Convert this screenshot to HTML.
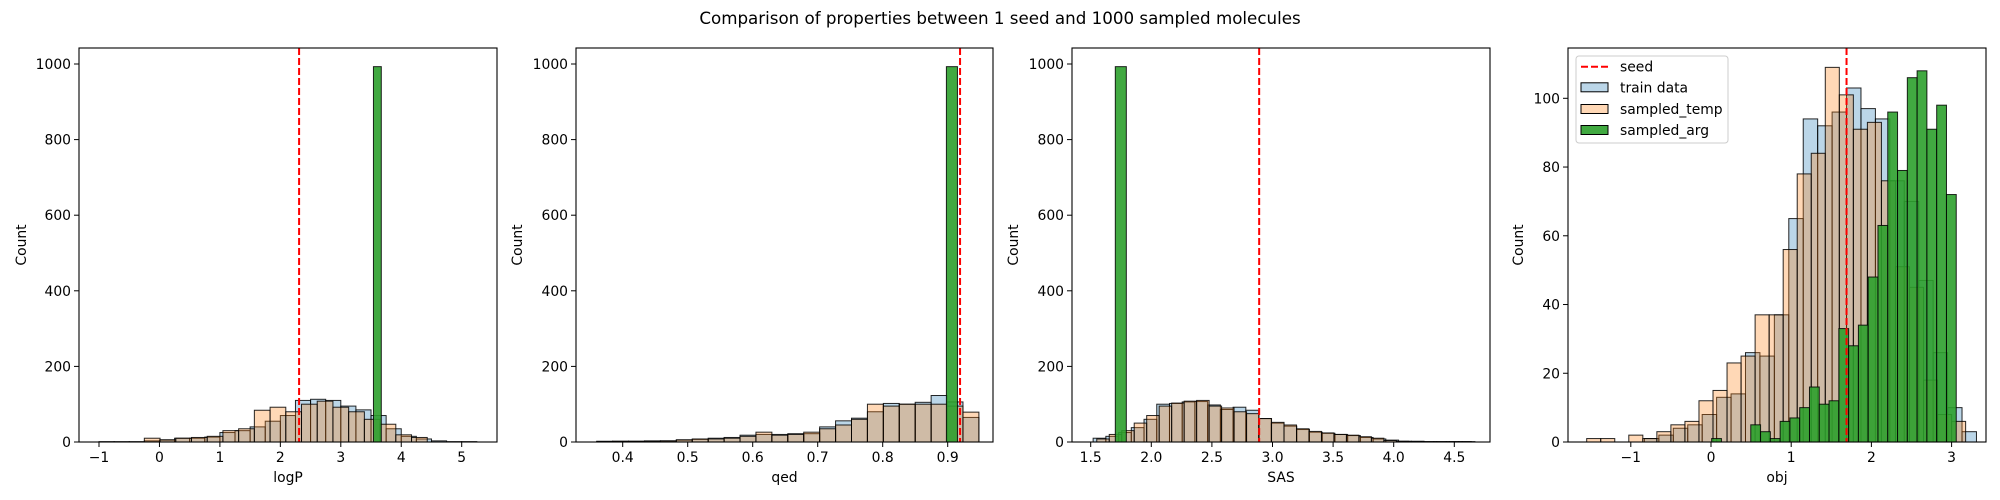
<!DOCTYPE html>
<html><head><meta charset="utf-8"><style>
body{margin:0;background:#fff;}
svg{display:block;font-family:"DejaVu Sans","Liberation Sans",sans-serif;}
</style></head><body>
<svg id="fig" width="2000" height="500" viewBox="0 0 2000 500">
<text x="1000" y="24" font-size="16.7" text-anchor="middle">Comparison of properties between 1 seed and 1000 sampled molecules</text>
</svg>
<script>
// ---- logP panel data ----
const logpTrainStart=-1.0, logpTrainWidth=0.25;
const logpTrainCounts=[1,1,1,3,5,10,10,13,25,30,40,55,70,110,113,110,95,85,70,35,15,8,3,1,1];
const logpTempStart=-0.25, logpTempWidth=0.26;
const logpTempCounts=[10,6,10,12,15,30,35,84,92,80,100,108,92,80,60,47,19,12];
const logpArgStart=3.54, logpArgWidth=0.13;
const logpArgCounts=[993];
const logpSeed=2.31;
// ---- qed panel data ----
const qedTrainStart=0.36, qedTrainWidth=0.0245;
const qedTrainCounts=[2,2,2,3,3,5,7,10,12,18,20,20,22,22,40,56,63,80,102,100,105,123,106,65];
const qedTempStart=0.36, qedTempWidth=0.0245;
const qedTempCounts=[1,2,2,2,3,6,8,8,10,15,26,18,20,26,35,45,60,100,95,100,100,100,95,79];
const qedArgStart=0.898, qedArgWidth=0.017;
const qedArgCounts=[993];
const qedSeed=0.919;
// ---- SAS panel data ----
const sasTrainStart=1.52, sasTrainWidth=0.105;
const sasTrainCounts=[10,15,25,38,60,100,102,106,107,98,86,92,84,62,50,42,33,26,23,20,17,12,8,5,2,2,1,1,1,1];
const sasTempStart=1.55, sasTempWidth=0.103;
const sasTempCounts=[8,20,30,50,70,95,103,108,110,95,90,80,75,62,52,45,35,28,24,20,18,14,10,4,2,1,1,1,1,1];
const sasArgStart=1.703, sasArgWidth=0.091;
const sasArgCounts=[993];
const sasSeed=2.89;
// ---- obj panel data ----
const objTrainStart=-0.83, objTrainWidth=0.18;
const objTrainCounts=[1,2,4,5,8,13,14,26,25,37,65,94,92,96,103,97,94,76,70,47,26,10,3];
const objTempStart=-1.55, objTempWidth=0.175;
const objTempCounts=[1,1,0,2,1,3,5,6,12,15,23,25,37,37,56,78,84,109,101,91,93,76,51,45,18,8,6];
const objArgStart=0.008, objArgWidth=0.122;
const objArgCounts=[1,0,0,0,5,3,1,6,7,10,16,11,12,33,28,34,48,63,96,79,106,108,91,98,72];
const objSeed=1.69;

const NS="http://www.w3.org/2000/svg";
const svg=document.getElementById('fig');
function mk(tag,attrs,parent){const e=document.createElementNS(NS,tag);for(const k in attrs)e.setAttribute(k,attrs[k]);(parent||svg).appendChild(e);return e;}

const panels=[
 {key:'logp',label:'logP',left:79,right:497,x0:-1,px0:99,ppu:60.45,ppc:0.378,yticks:[0,200,400,600,800,1000],ylab:21,
  xticks:[-1,0,1,2,3,4,5],fmt:v=>v<0?'\u2212'+Math.abs(v):String(v),
  series:[[logpTrainStart,logpTrainWidth,logpTrainCounts],[logpTempStart,logpTempWidth,logpTempCounts],[logpArgStart,logpArgWidth,logpArgCounts]],seed:logpSeed},
 {key:'qed',label:'qed',left:576,right:993,x0:0.4,px0:622.7,ppu:650,ppc:0.378,yticks:[0,200,400,600,800,1000],ylab:517,
  xticks:[0.4,0.5,0.6,0.7,0.8,0.9],fmt:v=>v.toFixed(1),
  series:[[qedTrainStart,qedTrainWidth,qedTrainCounts],[qedTempStart,qedTempWidth,qedTempCounts],[qedArgStart,qedArgWidth,qedArgCounts]],seed:qedSeed},
 {key:'sas',label:'SAS',left:1072,right:1490,x0:1.5,px0:1090.7,ppu:121.2,ppc:0.378,yticks:[0,200,400,600,800,1000],ylab:1013,
  xticks:[1.5,2.0,2.5,3.0,3.5,4.0,4.5],fmt:v=>v.toFixed(1),
  series:[[sasTrainStart,sasTrainWidth,sasTrainCounts],[sasTempStart,sasTempWidth,sasTempCounts],[sasArgStart,sasArgWidth,sasArgCounts]],seed:sasSeed},
 {key:'obj',label:'obj',left:1568,right:1986,x0:0,px0:1711,ppu:80.2,ppc:3.437,yticks:[0,20,40,60,80,100],ylab:1518,
  xticks:[-1,0,1,2,3],fmt:v=>v<0?'\u2212'+Math.abs(v):String(v),
  series:[[objTrainStart,objTrainWidth,objTrainCounts],[objTempStart,objTempWidth,objTempCounts],[objArgStart,objArgWidth,objArgCounts]],seed:objSeed,legend:true}
];
const TOP=48,BOT=442;
const fills=['rgba(31,119,180,0.3)','rgba(255,127,14,0.3)','rgba(44,160,44,0.9)'];
const names=['train','temp','arg'];

panels.forEach(p=>{
 const xs=v=>p.px0+(v-p.x0)*p.ppu;
 const ys=c=>BOT-c*p.ppc;
 const g=mk('g',{});
 
 
 const clipId='clip-'+p.key;
 const cp=mk('clipPath',{id:clipId},g);
 mk('rect',{x:p.left,y:TOP,width:p.right-p.left,height:BOT-TOP},cp);
 const bars=mk('g',{'clip-path':'url(#'+clipId+')'},g);
 p.series.forEach((s,si)=>{
  const [start,w,counts]=s;
  counts.forEach((c,i)=>{
   if(c<=0)return;
   const x1=xs(start+i*w),x2=xs(start+(i+1)*w);
   const r=mk('rect',{x:x1,y:ys(c),width:x2-x1,height:c*p.ppc,fill:fills[si],stroke:'rgba(0,0,0,0.85)','stroke-width':1},bars);
   
   
  });
 });
 const sl=mk('line',{x1:xs(p.seed),x2:xs(p.seed),y1:TOP,y2:BOT,stroke:'#ff0000','stroke-width':2,'stroke-dasharray':'7,3'},bars);
 
 
 const fr=mk('rect',{x:p.left,y:TOP,width:p.right-p.left,height:BOT-TOP,fill:'none',stroke:'#000','stroke-width':1.1},g);
 
 
 p.yticks.forEach(t=>{
  const y=ys(t);
  mk('line',{x1:p.left-5,x2:p.left,y1:y,y2:y,stroke:'#000','stroke-width':1},g);
  const tx=mk('text',{x:p.left-8,y:y+5,'font-size':13.9,'text-anchor':'end'},g);
  tx.textContent=String(t);
  
  
 });
 p.xticks.forEach(t=>{
  const x=xs(t);
  mk('line',{x1:x,x2:x,y1:BOT,y2:BOT+5,stroke:'#000','stroke-width':1},g);
  const tx=mk('text',{x:x,y:462,'font-size':13.9,'text-anchor':'middle'},g);
  tx.textContent=p.fmt(t);
  
  
 });
 const xl=mk('text',{x:(p.left+p.right)/2,y:482,'font-size':13.9,'text-anchor':'middle'},g);
 xl.textContent=p.label;
 
 
 const yl=mk('text',{x:0,y:0,'font-size':13.9,'text-anchor':'middle',transform:'translate('+(p.ylab+5)+',245) rotate(-90)'},g);
 yl.textContent='Count';
 
 
 if(p.legend){
  const lg=mk('g',{},g);
  
  
  mk('rect',{x:1576,y:56,width:152,height:87,rx:3,fill:'rgba(255,255,255,0.8)',stroke:'#ccc','stroke-width':1},lg);
  const labels=['seed','train data','sampled_temp','sampled_arg'];
  const ly=[66.7,87.3,109,130];
  labels.forEach((l,i)=>{
   if(i===0){mk('line',{x1:1581,x2:1608,y1:ly[i],y2:ly[i],stroke:'#ff0000','stroke-width':2,'stroke-dasharray':'7,3'},lg);}
   else{mk('rect',{x:1581,y:ly[i]-4.5,width:27,height:9,fill:fills[i-1],stroke:'#000','stroke-width':1},lg);}
   const t=mk('text',{x:1620,y:ly[i]+5,'font-size':13.9},lg);
   t.textContent=l;
   
   
  });
 }
});
</script>
</body></html>
